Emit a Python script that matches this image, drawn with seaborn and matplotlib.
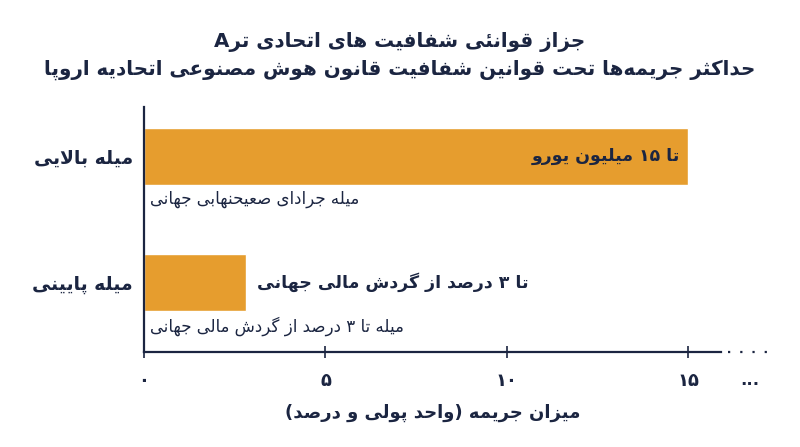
import matplotlib
matplotlib.use("Agg")
import matplotlib.pyplot as plt
from matplotlib import font_manager
from matplotlib.lines import Line2D
import seaborn as sns
import pandas as pd

# ---------------- data ----------------
title_line1 = "جزاز قوانئی شفافیت های اتحادی ترA"
title_line2 = "حداکثر جریمه‌ها تحت قوانین شفافیت قانون هوش مصنوعی اتحادیه اروپا"
categories = ["میله بالایی", "میله پایینی"]
values = [15, 2.8]
bar_labels = ["تا ۱۵ میلیون یورو", "تا ۳ درصد از گردش مالی جهانی"]
sub_labels = ["میله جرادای صعیحنهابی جهانی", "میله تا ۳ درصد از گردش مالی جهانی"]
x_ticks = [0, 5, 10, 15]
x_tick_labels = ["۰", "۵", "۱۰", "۱۵"]
x_label = "میزان جریمه (واحد پولی و درصد)"

NAVY = "#1B2541"
ORANGE = "#E69D2E"

# ---------------- minimal Arabic/Persian shaping ----------------
try:
    from fontTools.ttLib import TTFont
    _fp = font_manager.findfont(font_manager.FontProperties(family="DejaVu Sans", weight="bold"))
    _cmap_b = set(TTFont(_fp).getBestCmap().keys())
    _fp2 = font_manager.findfont(font_manager.FontProperties(family="DejaVu Sans"))
    _cmap_r = set(TTFont(_fp2).getBestCmap().keys())
except Exception:
    _cmap_b = None
    _cmap_r = None

# letter: (isolated, final, initial, medial); None for right-joining letters
FORMS = {
    "\u0627": (0xFE8D, 0xFE8E, None, None),
    "\u0622": (0xFE81, 0xFE82, None, None),
    "\u0628": (0xFE8F, 0xFE90, 0xFE91, 0xFE92),
    "\u062A": (0xFE95, 0xFE96, 0xFE97, 0xFE98),
    "\u062B": (0xFE99, 0xFE9A, 0xFE9B, 0xFE9C),
    "\u062C": (0xFE9D, 0xFE9E, 0xFE9F, 0xFEA0),
    "\u062D": (0xFEA1, 0xFEA2, 0xFEA3, 0xFEA4),
    "\u062E": (0xFEA5, 0xFEA6, 0xFEA7, 0xFEA8),
    "\u062F": (0xFEA9, 0xFEAA, None, None),
    "\u0630": (0xFEAB, 0xFEAC, None, None),
    "\u0631": (0xFEAD, 0xFEAE, None, None),
    "\u0632": (0xFEAF, 0xFEB0, None, None),
    "\u0698": (0xFB8A, 0xFB8B, None, None),
    "\u0633": (0xFEB1, 0xFEB2, 0xFEB3, 0xFEB4),
    "\u0634": (0xFEB5, 0xFEB6, 0xFEB7, 0xFEB8),
    "\u0635": (0xFEB9, 0xFEBA, 0xFEBB, 0xFEBC),
    "\u0636": (0xFEBD, 0xFEBE, 0xFEBF, 0xFEC0),
    "\u0637": (0xFEC1, 0xFEC2, 0xFEC3, 0xFEC4),
    "\u0638": (0xFEC5, 0xFEC6, 0xFEC7, 0xFEC8),
    "\u0639": (0xFEC9, 0xFECA, 0xFECB, 0xFECC),
    "\u063A": (0xFECD, 0xFECE, 0xFECF, 0xFED0),
    "\u0641": (0xFED1, 0xFED2, 0xFED3, 0xFED4),
    "\u0642": (0xFED5, 0xFED6, 0xFED7, 0xFED8),
    "\u0643": (0xFED9, 0xFEDA, 0xFEDB, 0xFEDC),
    "\u06A9": (0xFB8E, 0xFB8F, 0xFB90, 0xFB91),
    "\u06AF": (0xFB92, 0xFB93, 0xFB94, 0xFB95),
    "\u0644": (0xFEDD, 0xFEDE, 0xFEDF, 0xFEE0),
    "\u0645": (0xFEE1, 0xFEE2, 0xFEE3, 0xFEE4),
    "\u0646": (0xFEE5, 0xFEE6, 0xFEE7, 0xFEE8),
    "\u0647": (0xFEE9, 0xFEEA, 0xFEEB, 0xFEEC),
    "\u0648": (0xFEED, 0xFEEE, None, None),
    "\u06CC": (0xFBFC, 0xFBFD, 0xFBFE, 0xFBFF),
    "\u064A": (0xFEF1, 0xFEF2, 0xFEF3, 0xFEF4),
    "\u0649": (0xFEEF, 0xFEF0, None, None),
    "\u0626": (0xFE89, 0xFE8A, 0xFE8B, 0xFE8C),
    "\u067E": (0xFB56, 0xFB57, 0xFB58, 0xFB59),
    "\u0686": (0xFB7A, 0xFB7B, 0xFB7C, 0xFB7D),
}
# fallbacks when a Persian presentation form is missing from the font
ALT = {
    0xFBFC: 0xFEEF, 0xFBFD: 0xFEF0, 0xFBFE: 0xFEF3, 0xFBFF: 0xFEF4,
    0xFB90: 0xFEDB, 0xFB91: 0xFEDC,
}


def _ok(cp, cmap):
    return cmap is None or cp in cmap


def _pick(cp, base, cmap):
    if _ok(cp, cmap):
        return chr(cp)
    if cp in ALT and _ok(ALT[cp], cmap):
        return chr(ALT[cp])
    return base


def shape(text, bold=True):
    cmap = _cmap_b if bold else _cmap_r
    chars = list(text)
    out = []
    n = len(chars)

    def joins_next(c):
        return c in FORMS and FORMS[c][2] is not None

    i = 0
    while i < n:
        c = chars[i]
        if c == "\u200C":
            i += 1
            continue
        if c not in FORMS:
            out.append(c)
            i += 1
            continue
        prev = chars[i - 1] if i > 0 else None
        jp = prev is not None and joins_next(prev)
        # lam-alef ligature
        if c == "\u0644" and i + 1 < n and chars[i + 1] in ("\u0627", "\u0622"):
            lig = (0xFEFC if jp else 0xFEFB) if chars[i + 1] == "\u0627" else (0xFEF6 if jp else 0xFEF5)
            if _ok(lig, cmap):
                out.append(chr(lig))
                i += 2
                continue
        nxt = chars[i + 1] if i + 1 < n else None
        jn = joins_next(c) and nxt is not None and nxt in FORMS
        iso, fin, ini, med = FORMS[c]
        if jp and jn:
            cp = med
        elif jp:
            cp = fin
        elif jn:
            cp = ini
        else:
            cp = iso
        out.append(_pick(cp, c, cmap))
        i += 1
    # visual reordering (RTL base, keep LTR runs)
    def is_ltr(ch):
        return ch.isdigit() or ("A" <= ch <= "Z") or ("a" <= ch <= "z") or ch in ".,%"
    runs = []
    for ch in out:
        l = is_ltr(ch)
        if runs and runs[-1][0] == l:
            runs[-1][1].append(ch)
        else:
            runs.append([l, [ch]])
    mirror = {"(": ")", ")": "(", "[": "]", "]": "["}
    vis = []
    for l, cs in reversed(runs):
        if l:
            vis.extend(cs)
        else:
            vis.extend(mirror.get(ch, ch) for ch in reversed(cs))
    return "".join(vis)


# ---------------- plot ----------------
sns.set_theme(style="white")
plt.rcParams["font.family"] = ["DejaVu Sans"]

df = pd.DataFrame({"category": categories, "value": values})

fig = plt.figure(figsize=(8, 4.47), dpi=100)
ax = fig.add_axes([0.18, 1 - 352 / 447, 0.7213, (352 - 107) / 447])

sns.barplot(data=df, x="value", y="category", orient="h", color=ORANGE,
            saturation=1, width=0.453, ax=ax)

ax.set_xlim(0, 15.9)
ax.set_ylim(1.554, -0.39)

for s in ["top", "right"]:
    ax.spines[s].set_visible(False)
for s in ["left", "bottom"]:
    ax.spines[s].set_color(NAVY)
    ax.spines[s].set_linewidth(1.6)

ax.set_xticks(x_ticks)
ax.set_xticklabels([shape(t) for t in x_tick_labels], fontsize=13, fontweight="bold", color=NAVY)
ax.tick_params(axis="x", direction="inout", length=9, width=1.2, color=NAVY, pad=10, bottom=True)
ax.set_yticks(range(len(categories)))
ax.set_yticklabels([shape(c) for c in categories], fontsize=13.5, fontweight="bold", color=NAVY)
ax.tick_params(axis="y", length=0, pad=8)

ax.set_ylabel("")
ax.set_xlabel(shape(x_label), fontsize=13, fontweight="bold", color=NAVY, labelpad=10)

# bar value labels
for i, (v, lab) in enumerate(zip(values, bar_labels)):
    if v > 8:
        ax.annotate(shape(lab), xy=(v, i), xytext=(-6, 0), textcoords="offset points",
                    ha="right", va="center", fontsize=12.5, fontweight="bold", color=NAVY)
    else:
        ax.annotate(shape(lab), xy=(v, i), xytext=(8, 0), textcoords="offset points",
                    ha="left", va="center", fontsize=12.5, fontweight="bold", color=NAVY)

# sub labels under bars
for i, lab in enumerate(sub_labels):
    ax.annotate(shape(lab, bold=False), xy=(0, i + 0.226), xytext=(4, -4), textcoords="offset points",
                ha="left", va="top", fontsize=12, color=NAVY)

# axis continuation (dots) and ellipsis label
ax.add_line(Line2D([1.012, 1.087], [0, 0], transform=ax.transAxes, color=NAVY,
                   linestyle=(0, (1, 4.5)), linewidth=1.6, clip_on=False))
ax.text(1.05, -0.115, "...", transform=ax.transAxes, ha="center", va="center",
        fontsize=12, fontweight="bold", color=NAVY)

# title
fig.text(0.5, 1 - 42 / 447, shape(title_line1), ha="center", va="center",
         fontsize=14.3, fontweight="bold", color=NAVY)
fig.text(0.5, 1 - 70 / 447, shape(title_line2), ha="center", va="center",
         fontsize=14.3, fontweight="bold", color=NAVY)

fig.savefig("out.png", dpi=100, facecolor="white")
